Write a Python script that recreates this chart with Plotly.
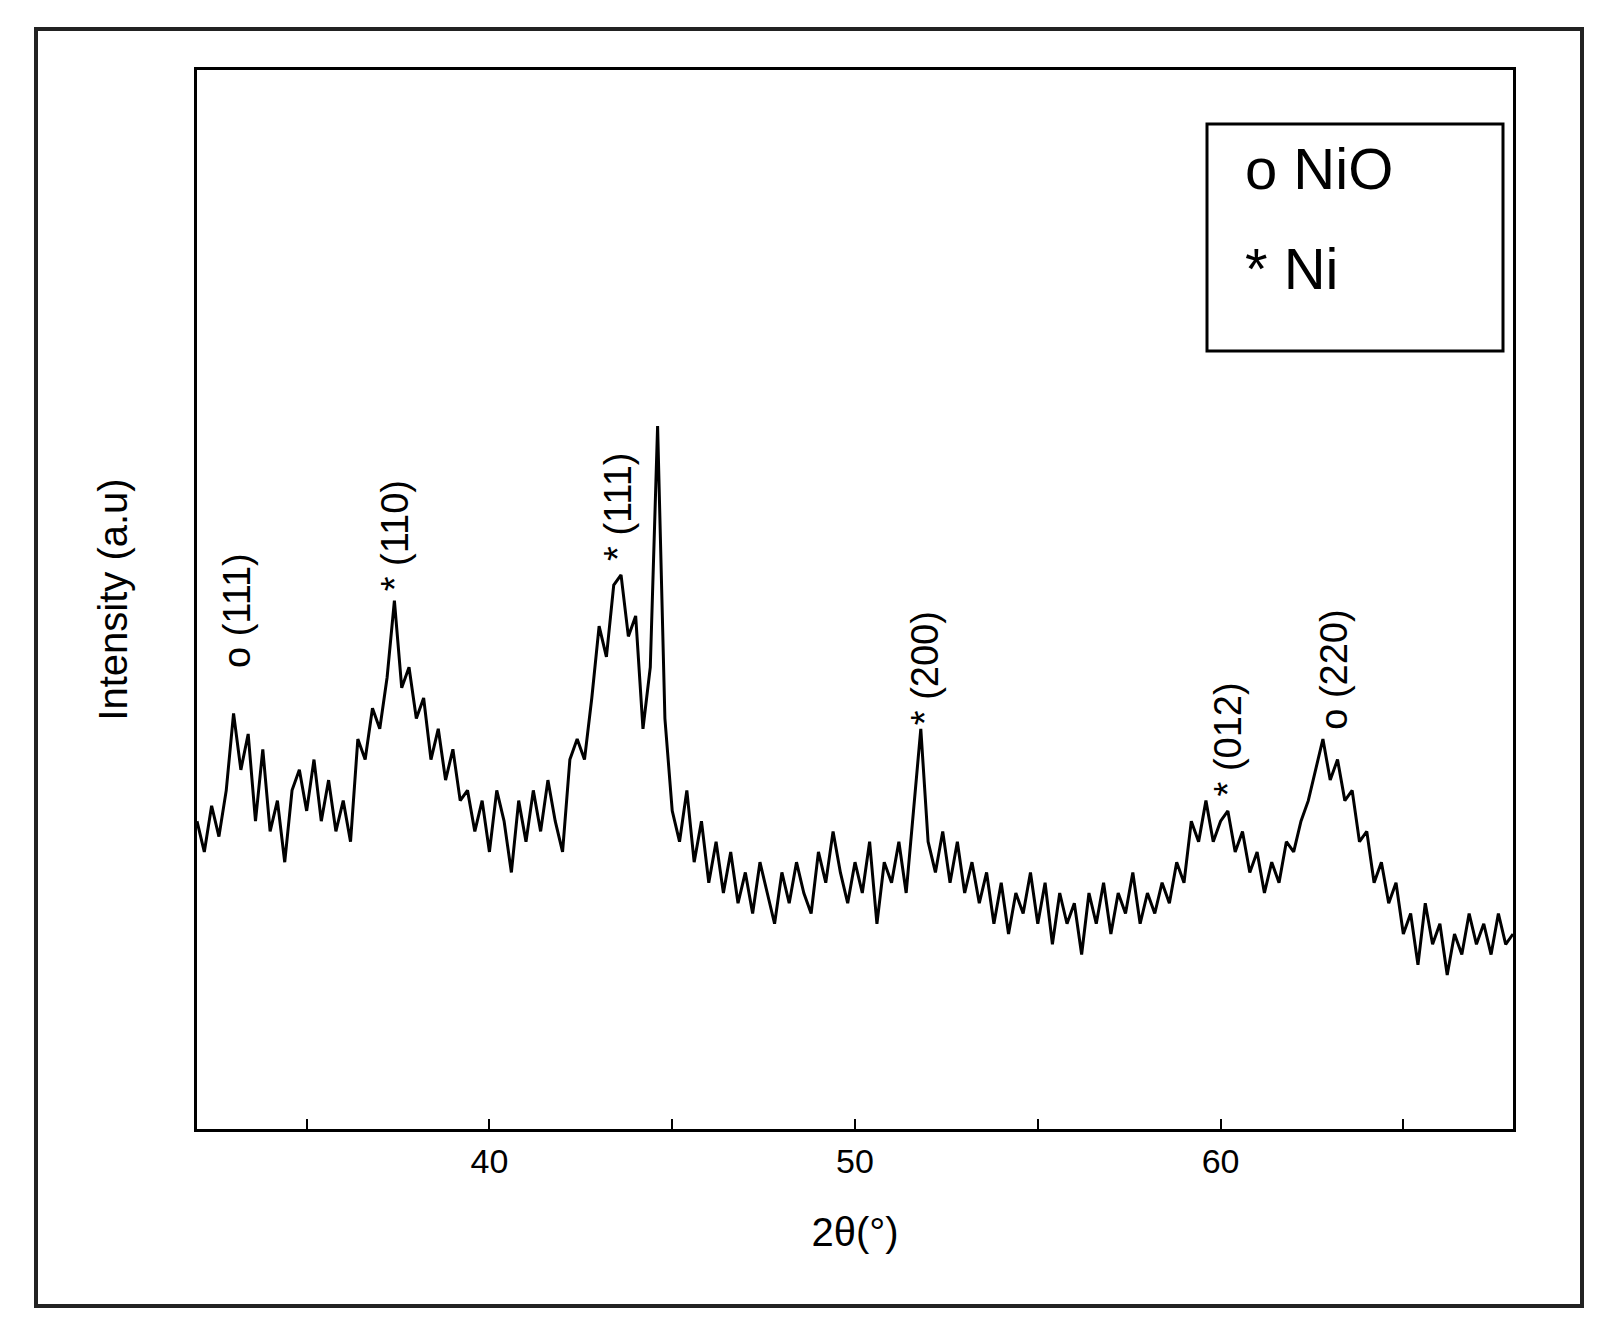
import plotly.graph_objects as go
import numpy as np

intensity = [300,270,315,285,330,405,350,385,300,370,290,320,260,330,350,310,360,300,340,290,
320,280,380,360,410,390,440,515,430,450,400,420,360,390,340,370,320,330,290,320,
270,330,300,250,320,280,330,290,340,300,270,360,380,360,420,490,460,530,540,480,
500,390,450,685,400,310,280,330,260,300,240,280,230,270,220,250,210,260,230,200,
250,220,260,230,210,270,240,290,250,220,260,230,280,200,260,240,280,230,310,390,
280,250,290,240,280,230,260,220,250,200,240,190,230,210,250,200,240,180,230,200,
220,170,230,200,240,190,230,210,250,200,230,210,240,220,260,240,300,280,320,280,
300,310,270,290,250,270,230,260,240,280,270,300,320,350,380,340,360,320,330,280,
290,240,260,220,240,190,210,160,220,180,200,150,190,170,210,180,200,170,210,180,190]
two_theta = [32 + 0.2*i for i in range(len(intensity))]

labels = ["o (111)", "* (110)", "* (111)", "* (200)", "* (012)", "o (220)"]
label_x = [33.1, 37.4, 43.5, 51.9, 60.2, 63.1]
label_y = [447, 522, 552, 392, 322, 387]

fig = go.Figure(go.Scatter(x=two_theta, y=intensity, mode="lines",
                           line=dict(color="black", width=3), showlegend=False))

for t, x, y in zip(labels, label_x, label_y):
    fig.add_annotation(x=x, y=y, text=t, textangle=-90, showarrow=False,
                       xanchor="center", yanchor="bottom",
                       font=dict(size=38, color="black", family="Liberation Sans"))

fig.add_shape(type="rect", xref="paper", yref="paper",
              x0=(1199-189)/1316, x1=(1495-189)/1316,
              y0=(1126-348)/1059, y1=(1126-121)/1059,
              line=dict(color="black", width=3))
fig.add_annotation(xref="paper", yref="paper", x=(1235-189)/1316, y=(1126-165)/1059,
                   text="o NiO", showarrow=False, xanchor="left", yanchor="middle",
                   font=dict(size=58, color="black", family="Liberation Sans"))
fig.add_annotation(xref="paper", yref="paper", x=(1235-189)/1316, y=(1126-265)/1059,
                   text="* Ni", showarrow=False, xanchor="left", yanchor="middle",
                   font=dict(size=58, color="black", family="Liberation Sans"))
# outer frame
fig.add_shape(type="rect", xref="paper", yref="paper",
              x0=(28-189)/1316, x1=(1574-189)/1316,
              y0=(1126-1303)/1059, y1=(1126-26)/1059,
              line=dict(color="#222", width=4))

fig.update_layout(
    width=1608, height=1339, plot_bgcolor="white", paper_bgcolor="white",
    margin=dict(l=189, r=103, t=62, b=218),
    font=dict(family="Liberation Sans", color="black"),
    xaxis=dict(range=[32, 68], tickvals=[35, 40, 45, 50, 55, 60, 65],
               ticktext=["", "40", "", "50", "", "60", ""],
               ticks="inside", ticklen=10, tickwidth=2, tickcolor="black",
               showline=True, linecolor="black", linewidth=2.5, mirror=True,
               showgrid=False, zeroline=False, tickfont=dict(size=34),
               title=dict(text="2θ(°)", font=dict(size=40), standoff=40)),
    yaxis=dict(range=[0, 1032], showticklabels=False, ticks="",
               showline=True, linecolor="black", linewidth=2.5, mirror=True,
               showgrid=False, zeroline=False,
               title=dict(text="Intensity (a.u)", font=dict(size=40), standoff=55)),
)
fig.write_html("out.html")
